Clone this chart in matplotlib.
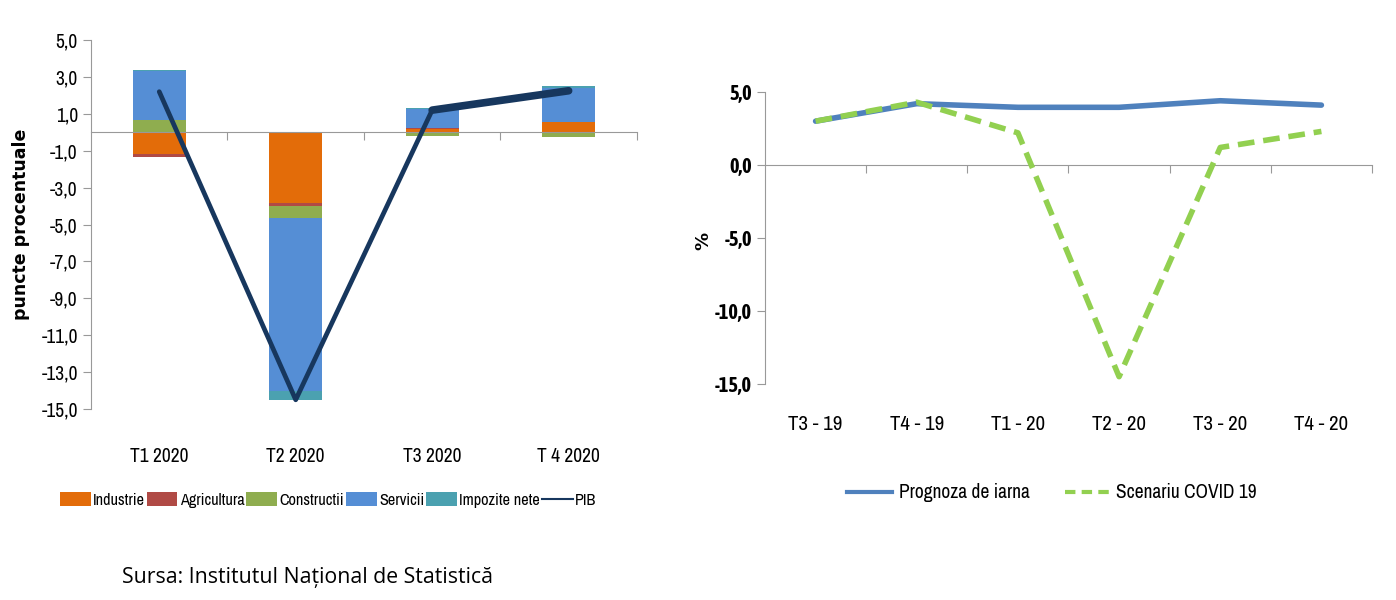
import matplotlib
matplotlib.use('Agg')
import matplotlib.pyplot as plt
import matplotlib.transforms as mtransforms
from matplotlib.patches import Patch
from matplotlib.lines import Line2D
from matplotlib.ticker import FuncFormatter
import numpy as np

# left chart: contributions to GDP growth (puncte procentuale)
quarters = ['T1 2020', 'T2 2020', 'T3 2020', 'T 4 2020']
sectors = ['Industrie', 'Agricultura', 'Constructii', 'Servicii', 'Impozite nete']
industrie = [-1.2, -3.85, 0.17, 0.54]
agricultura = [-0.12, -0.15, 0.05, 0.0]
constructii = [0.68, -0.67, -0.18, -0.25]
servicii = [2.65, -9.35, 1.05, 1.85]
impozite = [0.05, -0.5, 0.05, 0.1]
pib = [2.2, -14.5, 1.2, 2.25]

# right chart: GDP forecast (%)
periods = ['T3 - 19', 'T4 - 19', 'T1 - 20', 'T2 - 20', 'T3 - 20', 'T4 - 20']
prognoza = [3.0, 4.2, 3.95, 3.95, 4.4, 4.1]
covid = [3.0, 4.3, 2.2, -14.5, 1.2, 2.3]

sector_colors = ['#E36C09', '#B04A45', '#8FAD4F', '#558ED5', '#4BA1B0']
narrow = ['Archivo Narrow', 'DejaVu Sans']
narrow_bold = ['Asap Condensed', 'Archivo Narrow', 'DejaVu Sans']
comma = FuncFormatter(lambda v, p: ('%.1f' % v).replace('.', ','))

fig = plt.figure(figsize=(13.96, 6.0), dpi=100)
fig.patch.set_facecolor('white')

# ---------- left ----------
ax = fig.add_axes([0.0652, 0.3183, 0.391, 0.615])
x = np.arange(len(quarters))
pos_base = np.zeros(len(quarters))
neg_base = np.zeros(len(quarters))
for vals, col in zip([industrie, agricultura, constructii, servicii, impozite], sector_colors):
    v = np.array(vals)
    bottom = np.where(v >= 0, pos_base, neg_base)
    ax.bar(x, v, width=0.39, bottom=bottom, color=col, zorder=2)
    pos_base = pos_base + np.where(v >= 0, v, 0)
    neg_base = neg_base + np.where(v < 0, v, 0)
ax.plot(x, pib, color='#17375E', lw=3.4, zorder=3, solid_capstyle='round')
# last segment is drawn heavier in the original
ax.plot(x[2:], pib[2:], color='#17375E', lw=5.5, zorder=3, solid_capstyle='round')

ax.set_xlim(-0.5, 3.5)
ax.set_ylim(-15, 5)
ax.set_yticks(np.arange(-15, 6, 2))
ax.yaxis.set_major_formatter(comma)
ax.set_xticks([0.5, 1.5, 2.5, 3.5])
ax.set_xticklabels([])
for s in ['top', 'right']:
    ax.spines[s].set_visible(False)
ax.spines['bottom'].set_position(('data', 0))
ax.spines['bottom'].set_color('#999999')
ax.spines['left'].set_color('#999999')
ax.tick_params(axis='both', direction='out', length=6, color='#999999')
for lab in ax.get_yticklabels():
    lab.set_family(narrow)
    lab.set_fontsize(14)
trans = mtransforms.blended_transform_factory(ax.transData, ax.transAxes)
for i, q in enumerate(quarters):
    ax.text(i, -0.13, q, transform=trans, ha='center', va='center',
            fontsize=14, family=narrow)
ax.set_ylabel('puncte procentuale', fontsize=12.5, fontweight='bold')
ax.yaxis.set_label_coords(-0.112, 0.5)

handles = [Patch(facecolor=c, label=s) for s, c in zip(sectors, sector_colors)]
handles.append(Line2D([0], [0], color='#17375E', lw=1.5, label='PIB'))
leg = fig.legend(handles=handles, loc='center', bbox_to_anchor=(328 / 1396, 1 - 500 / 600),
                 ncol=6, frameon=False, handlelength=1.9, handleheight=0.9,
                 handletextpad=0.15, columnspacing=0.1, prop={'family': narrow, 'size': 11.7})

# ---------- right ----------
ax2 = fig.add_axes([0.548, 0.36, 0.4348, 0.4867])
x2 = np.arange(len(periods))
ax2.plot(x2, prognoza, color='#4F81BD', lw=4, zorder=2, solid_capstyle='round')
ax2.plot(x2, covid, color='#92D050', lw=4, ls=(0, (3, 1.6)), zorder=3)
ax2.set_xlim(-0.5, 5.5)
ax2.set_ylim(-15, 5)
ax2.set_yticks([-15, -10, -5, 0, 5])
ax2.yaxis.set_major_formatter(comma)
ax2.set_xticks([0.5, 1.5, 2.5, 3.5, 4.5, 5.5])
ax2.set_xticklabels([])
for s in ['top', 'right']:
    ax2.spines[s].set_visible(False)
ax2.spines['bottom'].set_position(('data', 0))
ax2.spines['bottom'].set_color('#999999')
ax2.spines['left'].set_color('#999999')
ax2.tick_params(axis='both', direction='out', length=6, color='#999999')
for lab in ax2.get_yticklabels():
    lab.set_family(narrow_bold)
    lab.set_fontsize(14.5)
    lab.set_fontweight('bold')
trans2 = mtransforms.blended_transform_factory(ax2.transData, ax2.transAxes)
for i, p in enumerate(periods):
    ax2.text(i, -0.14, p, transform=trans2, ha='center', va='center',
             fontsize=15, family=narrow)
ax2.set_ylabel('%', fontsize=13, fontweight='bold')
ax2.yaxis.set_label_coords(-0.086, 0.49)

handles2 = [Line2D([0], [0], color='#4F81BD', lw=3, label='Prognoza de iarna'),
            Line2D([0], [0], color='#92D050', lw=3, ls=(0, (2.5, 1.5)), label='Scenariu COVID 19')]
fig.legend(handles=handles2, loc='center', bbox_to_anchor=(1052 / 1396, 1 - 493 / 600),
           ncol=2, frameon=False, handlelength=2.3, handletextpad=0.35, columnspacing=1.8,
           prop={'family': narrow, 'size': 14})

fig.text(122 / 1396, 1 - 578 / 600, 'Sursa: Institutul Național de Statistică',
         fontsize=15.3, family=['Open Sans', 'DejaVu Sans'], va='center', ha='left')

fig.savefig('out.png', dpi=100, facecolor='w')
